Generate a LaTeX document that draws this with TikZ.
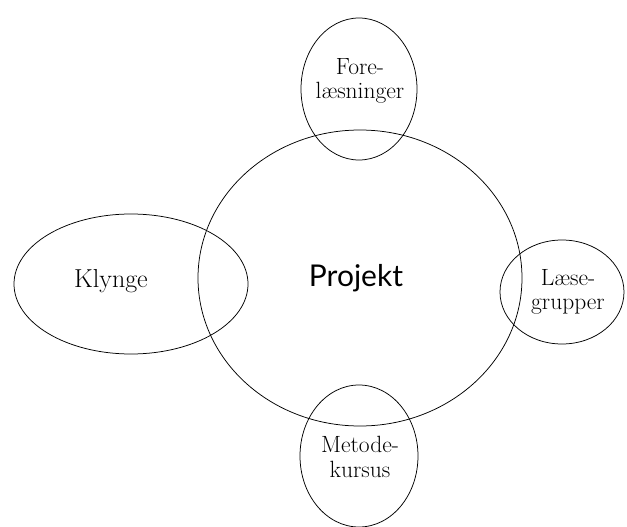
\documentclass[tikz,border=0pt]{standalone}
\usepackage{fontspec}
\newfontfamily\projfont{Lato}
\usetikzlibrary{shapes.geometric}

\begin{document}
\begin{tikzpicture}[
    x=1pt, y=-1pt,
    ring/.style={draw, ellipse, line width=0.75pt, inner sep=0pt},
    word/.style={font=\fontsize{23.5}{24.5}\selectfont, align=center, inner sep=0pt},
    title/.style={font=\projfont\fontsize{30}{34}\selectfont, inner sep=0pt}
  ]
    \useasboundingbox (0,0) rectangle (627,527);

    % Rings
    \node[ring, minimum width=324pt, minimum height=296pt] (proj) at (360, 278) {};
    \node[ring, minimum width=116pt, minimum height=142pt] (forel) at (359, 89) {};
    \node[ring, minimum width=234pt, minimum height=140pt] (klynge) at (131, 284) {};
    \node[ring, minimum width=124pt, minimum height=104pt] (laese) at (562, 292) {};
    \node[ring, minimum width=118pt, minimum height=142pt] (metode) at (359, 456) {};

    % Labels
    \node[title, anchor=base] (t-proj) at (356, 286) {Projekt};
    \node[word, anchor=base, font=\fontsize{26}{28}\selectfont] (t-klynge) at (111, 287) {Klynge};
    \node[word] (t-forel) at (360, 81) {Fore-\\læsninger};
    \node[word] (t-laese) at (568, 292) {Læse-\\grupper};
    \node[word] (t-metode) at (360, 457) {Metode-\\kursus};
\end{tikzpicture}
\end{document}
